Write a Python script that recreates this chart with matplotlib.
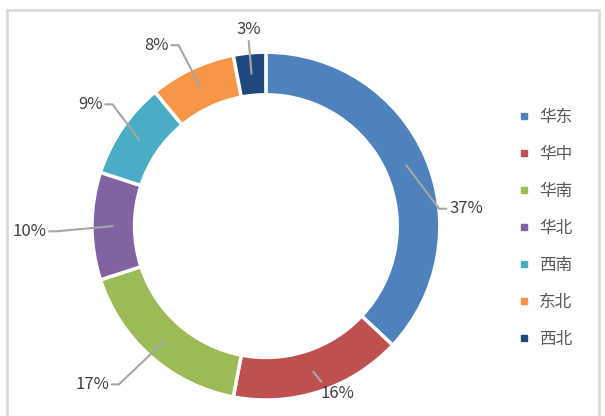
import matplotlib.pyplot as plt
from matplotlib.lines import Line2D
from matplotlib.patches import Rectangle
import numpy as np

plt.rcParams['font.family'] = ['Noto Sans CJK SC', 'DejaVu Sans']

regions = ["华东", "华中", "华南", "华北", "西南", "东北", "西北"]
shares = [37, 16, 17, 10, 9, 8, 3]
colors = ["#4F81BD", "#C0504D", "#9BBB59", "#8064A2", "#4BACC6", "#F79646", "#1F497D"]
# label centres, in units of the outer radius, relative to the centre
label_pos = [(1.15, 0.10), (0.41, -0.96), (-1.00, -0.91), (-1.36, -0.03),
             (-1.01, 0.70), (-0.63, 1.04), (-0.10, 1.13)]

fig = plt.figure(figsize=(6.05, 4.16), dpi=100)
fig.patches.append(Rectangle((0.0116, -0.1), 0.978, 1.076, transform=fig.transFigure,
                             fill=False, edgecolor="#D9D9D9", linewidth=2))

ax = fig.add_axes([0.152, 0.038, 0.575, 0.837])
wedges, _ = ax.pie(shares, colors=colors, startangle=90, counterclock=False, radius=1,
                   wedgeprops=dict(width=0.245, edgecolor="white", linewidth=2.5))
ax.set_xlim(-1, 1)
ax.set_ylim(-1, 1)
ax.set_aspect("equal")

r_mid = 1 - 0.12
for w, v, (tx, ty) in zip(wedges, shares, label_pos):
    ang = np.deg2rad((w.theta1 + w.theta2) / 2)
    x, y = r_mid * np.cos(ang), r_mid * np.sin(ang)
    if abs(tx - x) < 0.15:
        # label straight above: plain vertical line
        relpos, conn = (0.5, 0.0), "arc3"
    elif tx > x:
        relpos, conn = (0.0, 0.5), "arc,angleA=180,armA=10,rad=0"
    else:
        relpos, conn = (1.0, 0.5), "arc,angleA=0,armA=10,rad=0"
    ax.annotate(f"{v}%", xy=(x, y), xytext=(tx, ty), ha="center", va="center",
                fontsize=12, color="#404040", annotation_clip=False,
                arrowprops=dict(arrowstyle="-", color="#A6A6A6", lw=1.5,
                                relpos=relpos, connectionstyle=conn,
                                shrinkA=0, shrinkB=0))

handles = [Line2D([], [], marker="s", linestyle="none", markersize=5,
                  markerfacecolor=c, markeredgecolor=c) for c in colors]
fig.legend(handles, regions, loc="center left", bbox_to_anchor=(0.83, 0.45),
           frameon=False, fontsize=12, labelcolor="#595959", labelspacing=1.2,
           handletextpad=0.5, handlelength=0.8)

fig.savefig("out.png", dpi=100)
